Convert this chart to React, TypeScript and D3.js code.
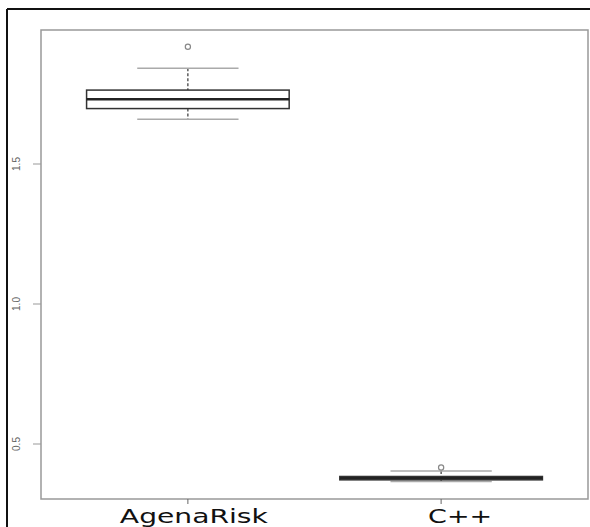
import React from "react";
import * as d3 from "d3";

const categories = ["AgenaRisk", "C++"];
const lowerWhisker = [1.66, 0.366];
const q1 = [1.698, 0.372];
const median = [1.731, 0.378];
const q3 = [1.764, 0.384];
const upperWhisker = [1.842, 0.404];
const outliers = [[1.919], [0.416]];
const yTicks = [0.5, 1.0, 1.5];
const labelOffsets = [6, 19];
const labelWidths = [148, 64];

export default function App() {
  const W = 590, H = 527;
  const left = 41, right = 588, top = 30, bottom = 499;
  const x = d3.scaleLinear().domain([0.42, 2.58]).range([left, right]);
  const y = d3.scaleLinear().domain([0.3036, 1.9786]).range([bottom, top]);
  const boxHalf = x(1.4) - x(1);
  const capHalf = x(1.2) - x(1);

  return (
    <svg width={W} height={H} style={{ position: "absolute", left: 0, top: 0, display: "block", background: "#fff" }}>
      <line x1={7} y1={9} x2={590} y2={9} stroke="#111" strokeWidth={2} />
      <line x1={7} y1={9} x2={7} y2={527} stroke="#111" strokeWidth={2} />
      <rect x={left} y={top} width={right - left} height={bottom - top} fill="none" stroke="#999" strokeWidth={1.5} />
      {yTicks.map((t) => (
        <g key={t}>
          <line x1={33} x2={left} y1={y(t)} y2={y(t)} stroke="#999" strokeWidth={1} />
          <text
            transform={`translate(20,${y(t)}) rotate(-90)`}
            textAnchor="middle"
            fontFamily="Liberation Sans, Arial, sans-serif"
            fontSize={10}
            fill="#666"
          >
            {d3.format(".1f")(t)}
          </text>
        </g>
      ))}
      {categories.map((c, i) => (
        <g key={c}>
          <line x1={x(i + 1)} x2={x(i + 1)} y1={bottom} y2={bottom + 5} stroke="#666" strokeWidth={1} />
          <text
            x={x(i + 1) + labelOffsets[i]}
            y={523}
            textAnchor="middle"
            fontFamily="DejaVu Sans, Verdana, sans-serif"
            fontSize={19}
            fill="#111"
            textLength={labelWidths[i]}
            lengthAdjust="spacingAndGlyphs"
          >
            {c}
          </text>
        </g>
      ))}
      {categories.map((c, i) => {
        const cx = x(i + 1);
        return (
          <g key={c + "box"}>
            <line x1={cx} x2={cx} y1={y(upperWhisker[i])} y2={y(q3[i])} stroke="#333" strokeWidth={1.2} strokeDasharray="3,2" />
            <line x1={cx} x2={cx} y1={y(q1[i])} y2={y(lowerWhisker[i])} stroke="#333" strokeWidth={1.2} strokeDasharray="3,2" />
            <line x1={cx - capHalf} x2={cx + capHalf} y1={y(upperWhisker[i])} y2={y(upperWhisker[i])} stroke="#aaa" strokeWidth={1.5} />
            <line x1={cx - capHalf} x2={cx + capHalf} y1={y(lowerWhisker[i])} y2={y(lowerWhisker[i])} stroke="#aaa" strokeWidth={1.5} />
            <rect
              x={cx - boxHalf}
              y={y(q3[i])}
              width={boxHalf * 2}
              height={y(q1[i]) - y(q3[i])}
              fill="#fff"
              stroke="#333"
              strokeWidth={1.5}
            />
            <line x1={cx - boxHalf} x2={cx + boxHalf} y1={y(median[i])} y2={y(median[i])} stroke="#222" strokeWidth={2.5} />
            {outliers[i].map((o, j) => (
              <circle key={j} cx={cx} cy={y(o)} r={2.6} fill="none" stroke="#888" strokeWidth={1.2} />
            ))}
          </g>
        );
      })}
    </svg>
  );
}
